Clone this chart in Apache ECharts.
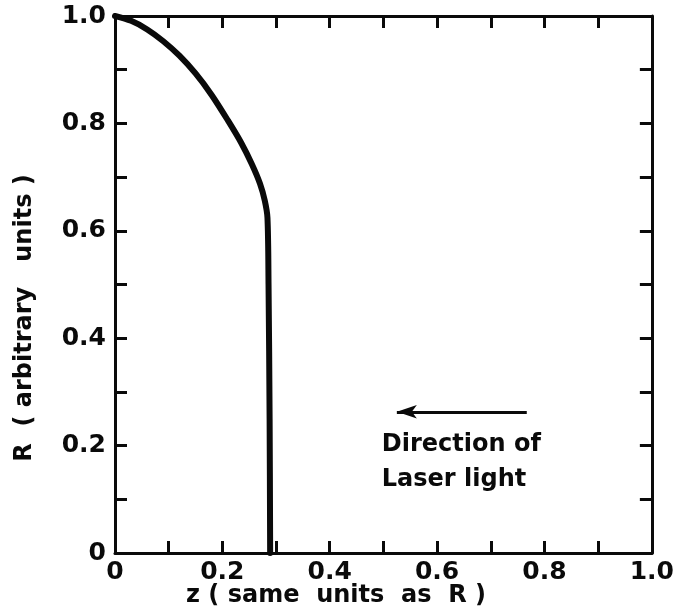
<!DOCTYPE html>
<html>
<head>
<meta charset="utf-8">
<script src="https://cdn.jsdelivr.net/npm/echarts@6/dist/echarts.min.js"></script>
<style>
  html, body { margin: 0; padding: 0; background: #fff; }
  #chart { width: 677px; height: 616px; }
</style>
</head>
<body>
<div id="chart"></div>
<script>
// Profile of the ablation surface: radius R versus axial position z
const zValues = [0, 0.03, 0.06, 0.09, 0.12, 0.15, 0.18, 0.21, 0.235, 0.255, 0.270, 0.279, 0.284, 0.286, 0.288, 0.289];
const rValues = [1.0, 0.991, 0.975, 0.953, 0.926, 0.893, 0.853, 0.806, 0.764, 0.724, 0.688, 0.656, 0.624, 0.500, 0.250, 0];

// Tick values shared by both axes
const tickLabels = ['0', '0.2', '0.4', '0.6', '0.8', '1.0'];

// Annotation: arrow showing the direction of the incoming laser light
const arrowFrom = [0.767, 0.263];
const arrowTo = [0.525, 0.263];
const noteLines = ['Direction of', 'Laser light'];
const notePos = [[0.497, 0.201], [0.497, 0.136]];

const FONT = 'DejaVu Sans';
const INK = '#0a0a0a';

function tickFormatter(v) {
  const k = Math.round(v * 10);
  if (k % 2 !== 0) return '';
  return tickLabels[k / 2];
}

const axisCommon = {
  type: 'value',
  min: 0,
  max: 1,
  interval: 0.1,
  axisLine: { show: true, onZero: false, lineStyle: { color: INK, width: 3 } },
  axisTick: { show: true, inside: true, length: 12, lineStyle: { color: INK, width: 3 } },
  splitLine: { show: false }
};

const chart = echarts.init(document.getElementById('chart'), null, { renderer: 'canvas' });

chart.setOption({
  backgroundColor: '#ffffff',
  animation: false,
  grid: { left: 115, right: 25, top: 16, bottom: 63, containLabel: false },
  xAxis: [
    Object.assign({}, axisCommon, {
      position: 'bottom',
      axisLabel: { formatter: tickFormatter, color: INK, fontFamily: FONT, fontWeight: 'bold', fontSize: 25, margin: 7 }
    }),
    Object.assign({}, axisCommon, { position: 'top', axisLabel: { show: false } })
  ],
  yAxis: [
    Object.assign({}, axisCommon, {
      position: 'left',
      axisLabel: { formatter: tickFormatter, color: INK, fontFamily: FONT, fontWeight: 'bold', fontSize: 25, margin: 9 }
    }),
    Object.assign({}, axisCommon, { position: 'right', axisLabel: { show: false } })
  ],
  series: [
    {
      type: 'line',
      data: zValues.map((z, i) => [z, rValues[i]]),
      showSymbol: false,
      symbol: 'none',
      smooth: 0.3,
      lineStyle: { color: INK, width: 6, cap: 'round', join: 'round' },
      markLine: {
        silent: true,
        symbol: ['none', 'arrow'],
        symbolSize: [10, 20],
        label: { show: false },
        lineStyle: { color: INK, width: 3, type: 'solid' },
        data: [[{ coord: arrowFrom }, { coord: arrowTo }]]
      }
    }
  ]
});

// Axis titles and the annotation text
const notes = noteLines.map((t, i) => {
  const p = chart.convertToPixel({ xAxisIndex: 0, yAxisIndex: 0 }, notePos[i]);
  return {
    type: 'text',
    x: p[0],
    y: p[1],
    style: { text: t, fill: INK, font: 'bold 24px "' + FONT + '"', textAlign: 'left', textVerticalAlign: 'middle' }
  };
});

chart.setOption({
  graphic: [
    {
      type: 'text',
      x: 336,
      y: 596,
      style: { text: 'z ( same  units  as  R )', fill: INK, font: 'bold 24px "' + FONT + '"', textAlign: 'center', textVerticalAlign: 'middle' }
    },
    {
      type: 'text',
      x: 25,
      y: 318,
      rotation: Math.PI / 2,
      style: { text: 'R  ( arbitrary   units )', fill: INK, font: 'bold 24px "' + FONT + '"', textAlign: 'center', textVerticalAlign: 'middle' }
    }
  ].concat(notes)
});
</script>
</body>
</html>
